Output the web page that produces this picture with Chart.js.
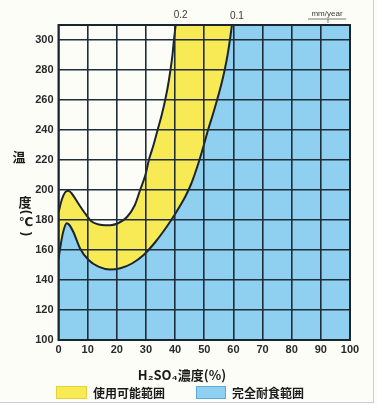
<!DOCTYPE html>
<html>
<head>
<meta charset="utf-8">
<script src="https://cdn.jsdelivr.net/npm/chart.js@4/dist/chart.umd.min.js"></script>
<style>
  html, body { margin: 0; padding: 0; background: #fdfdf8; }
  #wrap { position: relative; width: 377px; height: 405px; overflow: hidden; }
  #wrap canvas { display: block; }
  #edgeR { position: absolute; left: 373px; top: 0; width: 1px; height: 403px; background: #c9ced8; }
  #edgeB { position: absolute; left: 0; top: 402px; width: 374px; height: 1px; background: #c9ced8; }
</style>
</head>
<body>
<div id="wrap">
  <canvas id="chart" width="377" height="405"></canvas>
  <div id="edgeR"></div>
  <div id="edgeB"></div>
</div>
<script>
// Iso-corrosion curves for H2SO4: concentration (%) vs temperature (°C)
const conc02 = [0, 1.2, 2.3, 3.4, 4.6, 6.8, 9.1, 11.4, 14.9, 17.8, 20.6, 23.5, 26.2, 28, 29.8, 31, 32.6, 34, 35.4, 36.6, 37.6, 38.4, 39.1, 39.6, 40.2];
const temp02 = [185, 194, 198.5, 199.5, 197.5, 191, 184.5, 179, 176.7, 176.5, 178, 182, 190, 200, 210, 220, 230, 240, 250, 260, 270, 280, 290, 300, 310];

const conc01 = [0, 0.8, 1.6, 2.8, 3.8, 5.1, 7.4, 10.3, 13.7, 17.7, 21.2, 25.2, 29.2, 33.3, 37.3, 40, 43.6, 45.5, 47, 48.5, 50, 51.3, 52.9, 54.4, 55.8, 57, 58, 58.8, 59.5];
const temp01 = [154, 164, 172, 177.8, 176.5, 172, 161, 153.3, 148.9, 147, 147.8, 151, 156.7, 165.5, 176, 184, 196, 204, 212, 221, 231, 240, 250, 260, 270, 280, 290, 300, 310];

const xTicks = [0, 10, 20, 30, 40, 50, 60, 70, 80, 90, 100];
const yTicks = [100, 120, 140, 160, 180, 200, 220, 240, 260, 280, 300];
const xMin = 0, xMax = 100, yMin = 100, yMax = 310;

const isoLabels = ['0.2', '0.1'];
const unitLabel = 'mm/year';
const xTitle = 'H₂SO₄濃度(%)';
const yTitleChars = ['温', '度'];
const yUnitParts = ['(', '℃', ')'];
const legendLabels = ['使用可能範囲', '完全耐食範囲'];

const YELLOW = '#f8ea55';
const BLUE = '#8fd0f1';
const INK = '#1b2530';
const GRID = '#1f2d3a';

// Turn a curve into points, then carry its last segment on to the right edge
// so the fill beneath it covers the whole region to the right of the curve.
function curveWithTail(xs, ys) {
  const pts = xs.map((x, i) => ({ x, y: ys[i] }));
  const n = pts.length;
  const slope = (pts[n - 1].y - pts[n - 2].y) / (pts[n - 1].x - pts[n - 2].x);
  pts.push({ x: xMax, y: pts[n - 1].y + slope * (xMax - pts[n - 1].x) });
  return pts;
}

function curveDataset(xs, ys, color) {
  const data = curveWithTail(xs, ys);
  const last = data.length - 1;
  return {
    data,
    fill: 'start',
    backgroundColor: color,
    borderColor: INK,
    borderWidth: 2,
    pointRadius: 0,
    cubicInterpolationMode: 'monotone',
    segment: {
      borderColor: ctx => (ctx.p1DataIndex === last ? 'rgba(0,0,0,0)' : INK)
    }
  };
}

// draw a glyph turned a quarter turn, as in vertical writing
function rotatedGlyph(ctx, ch, cx, cy) {
  ctx.save();
  ctx.translate(cx, cy);
  ctx.rotate(Math.PI / 2);
  ctx.fillText(ch, 0, 0);
  ctx.restore();
}

const decorations = {
  id: 'decorations',
  afterDraw(chart) {
    const { ctx, chartArea: a, scales: { x } } = chart;
    ctx.save();

    // plot frame
    ctx.strokeStyle = INK;
    ctx.lineWidth = 2;
    ctx.strokeRect(a.left, a.top, a.right - a.left, a.bottom - a.top);

    // iso-corrosion rate labels above the frame
    ctx.fillStyle = '#3a3a3a';
    ctx.font = '10px "Liberation Sans", Arial, sans-serif';
    ctx.textBaseline = 'middle';
    ctx.textAlign = 'center';
    ctx.fillText(isoLabels[0], x.getPixelForValue(conc02[conc02.length - 1]) + 5, 15);
    ctx.fillText(isoLabels[1], x.getPixelForValue(conc01[conc01.length - 1]) + 5, 16);
    ctx.font = '8px "Liberation Sans", Arial, sans-serif';
    ctx.fillText(unitLabel, 327, 14);
    ctx.lineWidth = 0.8;
    ctx.strokeStyle = '#555';
    ctx.beginPath();
    ctx.moveTo(308, 19); ctx.lineTo(346, 19);
    ctx.moveTo(328, 19); ctx.lineTo(328, 23);
    ctx.stroke();

    // y axis title, written vertically
    ctx.fillStyle = '#1a1a1a';
    ctx.font = 'bold 13px "Noto Sans CJK JP", sans-serif';
    ctx.fillText(yTitleChars[0], 19, 157);
    ctx.fillText(yTitleChars[1], 25, 202);
    ctx.font = 'bold 12px "Liberation Sans", Arial, sans-serif';
    rotatedGlyph(ctx, yUnitParts[0], 26, 212);
    ctx.font = 'bold 12px "DejaVu Sans", "Noto Sans CJK JP", sans-serif';
    ctx.fillText(yUnitParts[1], 26, 223);
    ctx.font = 'bold 12px "Liberation Sans", Arial, sans-serif';
    rotatedGlyph(ctx, yUnitParts[2], 26, 234);

    // x axis title
    ctx.font = 'bold 13px "Noto Sans CJK JP", sans-serif';
    ctx.fillText(xTitle, 182, 375);

    // legend
    const items = [
      { color: YELLOW, edge: '#e7d23a', box: [56, 386, 31, 13], text: legendLabels[0], tx: 93 },
      { color: BLUE, edge: '#5aa9d6', box: [196, 386, 30, 13], text: legendLabels[1], tx: 232 }
    ];
    items.forEach(it => {
      const [bx, by, bw, bh] = it.box;
      ctx.fillStyle = it.color;
      ctx.fillRect(bx, by, bw, bh);
      ctx.strokeStyle = it.edge;
      ctx.lineWidth = 1;
      ctx.strokeRect(bx + 0.5, by + 0.5, bw - 1, bh - 1);
      ctx.fillStyle = '#1a1a1a';
      ctx.font = 'bold 12px "Noto Sans CJK JP", sans-serif';
      ctx.textAlign = 'left';
      ctx.fillText(it.text, it.tx, by + bh / 2 + 0.5);
    });

    ctx.restore();
  }
};

const tickFont = { family: '"Liberation Sans", Arial, sans-serif', size: 11, weight: 'bold' };

new Chart(document.getElementById('chart'), {
  type: 'line',
  data: {
    datasets: [
      curveDataset(conc01, temp01, BLUE),
      curveDataset(conc02, temp02, YELLOW)
    ]
  },
  options: {
    responsive: false,
    animation: false,
    devicePixelRatio: 1,
    layout: { padding: { top: 25, right: 27, left: 0, bottom: 0 } },
    plugins: { legend: { display: false }, tooltip: { enabled: false } },
    scales: {
      x: {
        type: 'linear',
        min: xMin, max: xMax,
        afterBuildTicks: s => { s.ticks = xTicks.map(v => ({ value: v })); },
        afterFit: s => { s.height = 65; },
        border: { display: false },
        grid: { color: GRID, lineWidth: 1.6, drawTicks: false, z: 1 },
        ticks: { padding: 3, color: '#2a2a2a', font: tickFont, z: 1 }
      },
      y: {
        type: 'linear',
        min: yMin, max: yMax,
        afterBuildTicks: s => { s.ticks = yTicks.map(v => ({ value: v })); },
        afterFit: s => { s.width = 58.5; },
        border: { display: false },
        grid: { color: GRID, lineWidth: 1.6, drawTicks: false, z: 1 },
        ticks: { padding: 5, color: '#2a2a2a', font: tickFont, z: 1 }
      }
    }
  },
  plugins: [decorations]
});
</script>
</body>
</html>
